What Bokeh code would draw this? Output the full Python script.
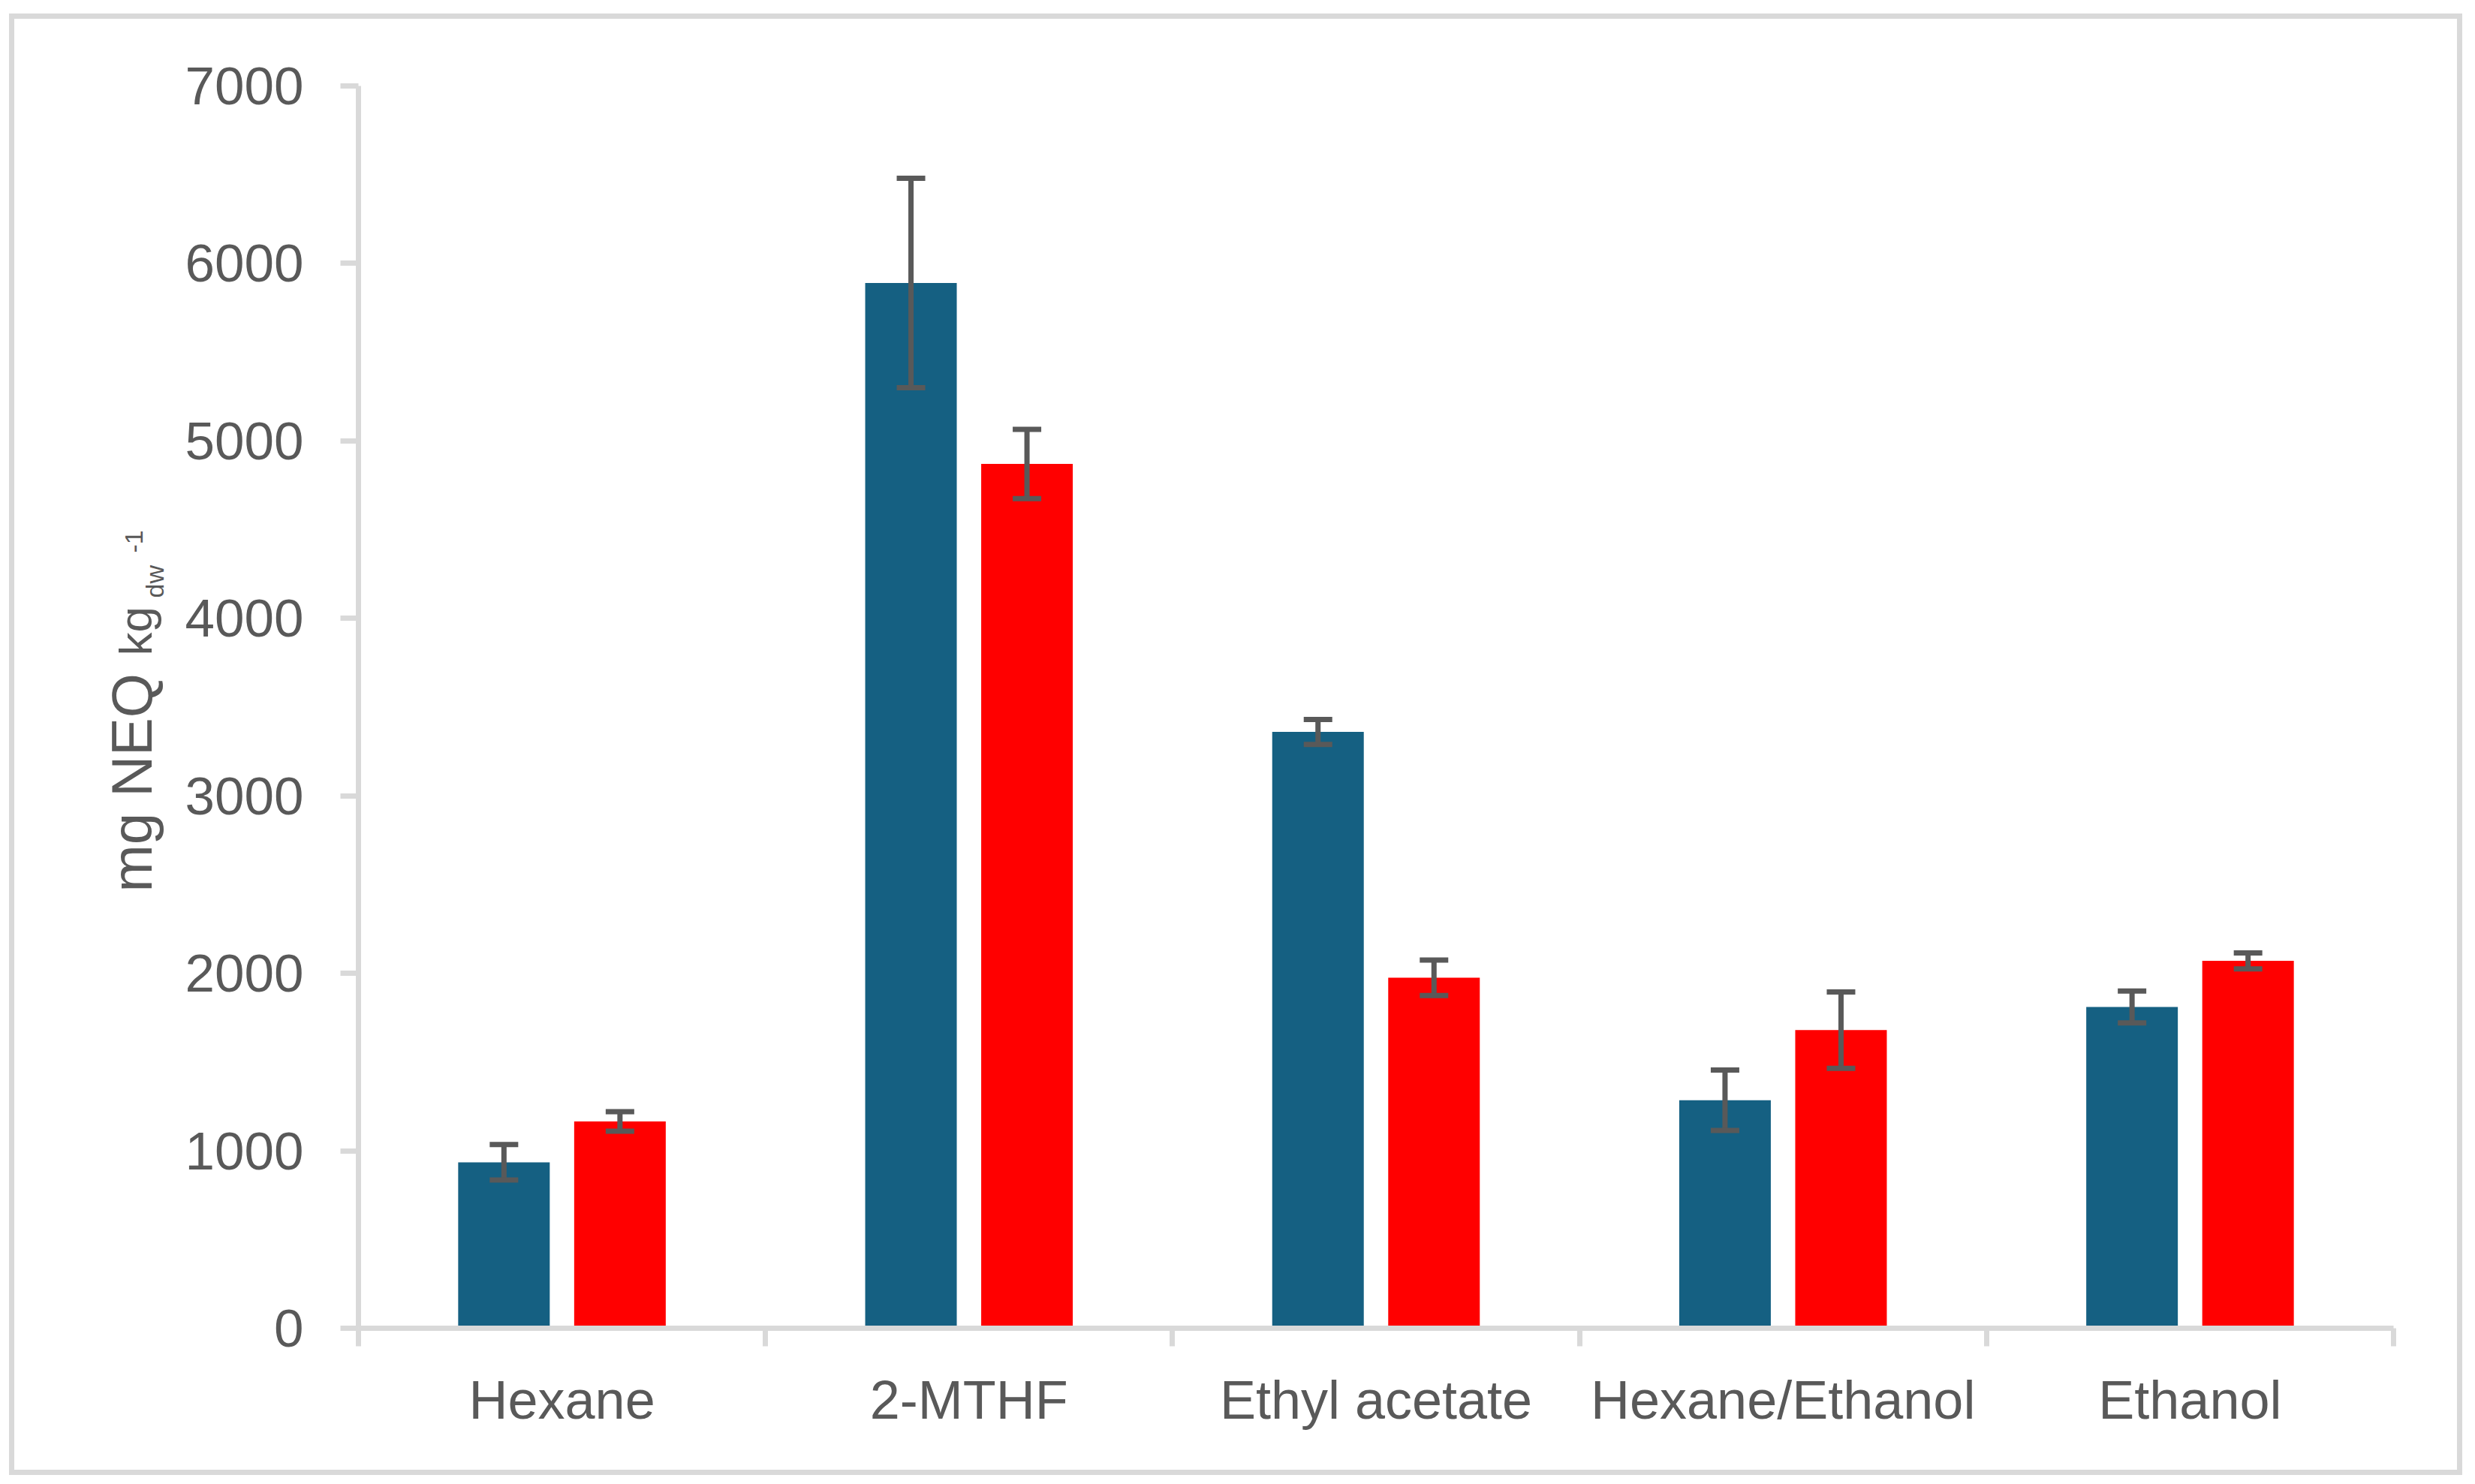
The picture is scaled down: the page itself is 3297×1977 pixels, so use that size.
import math
from bokeh.plotting import figure
from bokeh.models import (ColumnDataSource, Range1d, FixedTicker, Whisker, TeeHead, Label)
from bokeh.transform import dodge
from bokeh.embed import file_html
from bokeh.resources import INLINE

# ---- data ----
categories = ["Hexane", "2-MTHF", "Ethyl acetate", "Hexane/Ethanol", "Ethanol"]
series1_values = [935, 5890, 3360, 1285, 1810]
series1_errors = [100, 590, 70, 170, 90]
series2_values = [1165, 4870, 1975, 1680, 2070]
series2_errors = [55, 195, 100, 215, 45]
y_ticks = [0, 1000, 2000, 3000, 4000, 5000, 6000, 7000]

BLUE = "#156082"
RED = "#FF0000"
GRAY = "#595959"
AXIS = "#D9D9D9"
FONT = "Liberation Sans"

centers = [i + 0.5 for i in range(len(categories))]
boundaries = list(range(len(categories) + 1))

src = ColumnDataSource(dict(
    x=centers,
    v1=series1_values,
    lo1=[v - e for v, e in zip(series1_values, series1_errors)],
    hi1=[v + e for v, e in zip(series1_values, series1_errors)],
    v2=series2_values,
    lo2=[v - e for v, e in zip(series2_values, series2_errors)],
    hi2=[v + e for v, e in zip(series2_values, series2_errors)],
))

p = figure(width=3292, height=1971,
           x_range=Range1d(0, len(categories)), y_range=Range1d(y_ticks[0], y_ticks[-1]),
           output_backend="svg", toolbar_location=None,
           min_border_left=477, min_border_right=104,
           min_border_top=108, min_border_bottom=208)
p.styles = {"outline": "7px solid #D9D9D9", "outline-offset": "-19px", "margin-top": "6px"}
p.outline_line_color = None
p.background_fill_color = "white"
p.border_fill_color = None
p.xgrid.visible = False
p.ygrid.visible = False

OFF = 0.1425
BW = 0.225
p.vbar(x=dodge("x", -OFF, range=p.x_range), top="v1", width=BW, source=src,
       fill_color=BLUE, line_color=None)
p.vbar(x=dodge("x", OFF, range=p.x_range), top="v2", width=BW, source=src,
       fill_color=RED, line_color=None)

for off, lo, hi in [(-OFF, "lo1", "hi1"), (OFF, "lo2", "hi2")]:
    w = Whisker(source=src, base=dodge("x", off, range=p.x_range), upper=hi, lower=lo,
                line_color=GRAY, line_width=7, level="annotation",
                upper_head=TeeHead(size=38, line_color=GRAY, line_width=7),
                lower_head=TeeHead(size=38, line_color=GRAY, line_width=7))
    p.add_layout(w)

# x axis
xa = p.xaxis[0]
xa.ticker = FixedTicker(ticks=centers, minor_ticks=boundaries)
xa.major_label_overrides = {c: name for c, name in zip(centers, categories)}
xa.major_tick_out = 0
xa.major_tick_in = 0
xa.minor_tick_out = 24
xa.minor_tick_in = 0
xa.minor_tick_line_color = AXIS
xa.minor_tick_line_width = 7
xa.axis_line_color = AXIS
xa.axis_line_width = 7
xa.major_label_text_font = FONT
xa.major_label_text_font_size = "72px"
xa.major_label_text_color = GRAY
xa.major_label_standoff = 31

# y axis
ya = p.yaxis[0]
ya.ticker = FixedTicker(ticks=y_ticks)
ya.major_tick_out = 24
ya.major_tick_in = 0
ya.major_tick_line_color = AXIS
ya.major_tick_line_width = 7
ya.minor_tick_line_color = None
ya.axis_line_color = AXIS
ya.axis_line_width = 7
ya.major_label_text_font = FONT
ya.major_label_text_font_size = "71px"
ya.major_label_text_color = GRAY
ya.major_label_standoff = 49

# y axis title with subscript / superscript pieces (placed in the left panel;
# each piece gets its own strip, offsets are relative to that strip)
pieces = [
    ("mg NEQ", 17, 581, "76px"),
    ("kg", 91, 896, "62px"),
    ("dw", 154, 973, "34px"),
    ("-1", 150, 1033, "34px"),
]
for txt, sx, sy, fs in pieces:
    p.add_layout(Label(x=sx, y=sy, x_units="screen", y_units="screen", text=txt,
                       angle=math.pi / 2, text_align="left", text_baseline="alphabetic",
                       text_font=FONT, text_font_size=fs, text_color=GRAY), "left")

open("out.html", "w").write(file_html(p, INLINE))
